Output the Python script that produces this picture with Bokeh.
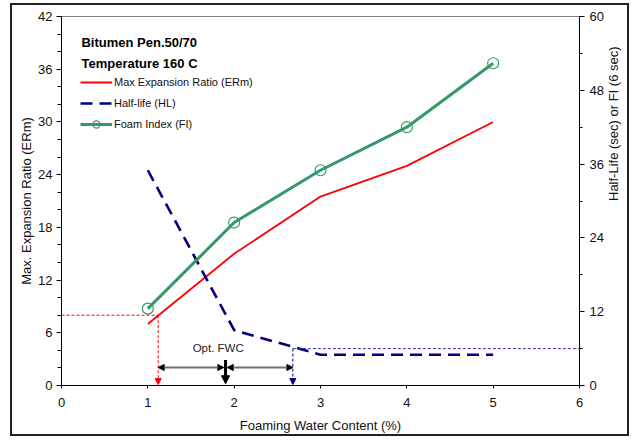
import math
from bokeh.plotting import figure
from bokeh.models import (Range1d, LinearAxis, SingleIntervalTicker, Arrow, NormalHead, Label)
from bokeh.embed import file_html
from bokeh.resources import INLINE

# ---- data ----
fwc = [1, 2, 3, 4, 5]
erm = [7.0, 15.0, 21.5, 25.0, 30.0]
half_life = [35.0, 9.0, 5.0, 5.0, 5.0]
foam_index = [12.5, 26.5, 35.0, 42.0, 52.4]

erm_target = 8.0        # ERm limit (left axis)
hl_target = 6.0         # half-life limit (right axis)
fwc_low = 1.12
fwc_high = 2.68
fwc_opt = 1.9

title_lines = ["Bitumen Pen.50/70", "Temperature 160 C"]
labels = ["Max Expansion Ratio (ERm)", "Half-life (HL)", "Foam Index (FI)"]

FONT = "Liberation Sans"

p = figure(width=619, height=433, output_backend="svg", toolbar_location=None,
           x_range=Range1d(0, 6), y_range=Range1d(0, 42),
           min_border_left=49, min_border_right=51, min_border_top=11, min_border_bottom=53,
           background_fill_color="white", border_fill_color="white")
p.styles = {"border": "2px solid #222222", "margin-left": "10px", "margin-top": "3px"}
p.extra_y_ranges = {"hl": Range1d(0, 60)}
p.grid.visible = False
p.outline_line_color = "#808080"
p.outline_line_width = 1

# axes styling
xa = p.xaxis[0]
xa.ticker = SingleIntervalTicker(interval=1, num_minor_ticks=0)
xa.axis_label = "Foaming Water Content (%)"
ya = p.yaxis[0]
ya.ticker = SingleIntervalTicker(interval=6, num_minor_ticks=3)
ya.axis_label = "Max. Expansion Ratio (ERm)"

ra = LinearAxis(y_range_name="hl", ticker=SingleIntervalTicker(interval=12, num_minor_ticks=2),
                axis_label="Half-Life (sec) or FI (6 sec)")
try:
    ra.axis_label_orientation = math.pi / 2
except Exception:
    pass
p.add_layout(ra, "right")

for ax in (xa, ya, ra):
    ax.axis_line_color = "black"
    ax.axis_line_width = 1
    ax.major_tick_line_color = "black"
    ax.minor_tick_line_color = "black"
    ax.major_label_text_font = FONT
    ax.major_label_text_font_size = "13px"
    ax.major_label_text_color = "#111111"
    ax.axis_label_text_font = FONT
    ax.axis_label_text_font_size = "13px"
    ax.axis_label_text_font_style = "normal"
    ax.axis_label_text_color = "#111111"

xa.major_tick_in = 0
xa.major_tick_out = 3
xa.minor_tick_line_color = None
xa.major_label_standoff = 9
xa.axis_label_standoff = 8

ya.major_tick_in = 0
ya.major_tick_out = 5
ya.minor_tick_in = 0
ya.minor_tick_out = 4
ya.major_label_standoff = 4
ya.axis_label_standoff = 1

ra.major_tick_in = 0
ra.major_tick_out = 5
ra.minor_tick_in = 0
ra.minor_tick_out = 3
ra.major_label_standoff = 5
ra.axis_label_standoff = 7

# ---- series ----
p.line(fwc, erm, line_color="#FF0000", line_width=1.8, legend_label=labels[0])
p.line(fwc, half_life, y_range_name="hl", line_color="#000080", line_width=2.6,
       line_dash="12 7", legend_label=labels[1])
p.line(fwc, foam_index, y_range_name="hl", line_color="#339966", line_width=3,
       legend_label=labels[2])
p.scatter(fwc, foam_index, y_range_name="hl", marker="circle", size=11,
          fill_color=None, line_color="#339966", line_width=1.2, legend_label=labels[2])

# ---- annotation lines ----
p.line([0, fwc_low], [erm_target, erm_target], line_color="#FF0000", line_width=1, line_dash="3 2")
p.add_layout(Arrow(x_start=fwc_low, y_start=erm_target, x_end=fwc_low, y_end=0.1,
                   line_color="#FF0000", line_width=1, line_dash="3 2",
                   end=NormalHead(size=6, fill_color="#FF0000", line_color="#FF0000", line_width=1)))

p.line([fwc_high, 6], [hl_target, hl_target], y_range_name="hl",
       line_color="#3333AA", line_width=1, line_dash="3 2")
p.add_layout(Arrow(x_start=fwc_high, y_start=hl_target, x_end=fwc_high, y_end=0.15,
                   y_range_name="hl", line_color="#000080", line_width=1, line_dash="3 2",
                   end=NormalHead(size=6, fill_color="#000080", line_color="#000080", line_width=1)))

arr_y = 2.05
for xs, xe in ((fwc_low, fwc_opt - 0.02), (fwc_opt + 0.02, fwc_high)):
    p.add_layout(Arrow(x_start=xs, y_start=arr_y, x_end=xe, y_end=arr_y,
                       line_color="#707070", line_width=2,
                       start=NormalHead(size=6, fill_color="black", line_color="black", line_width=1),
                       end=NormalHead(size=6, fill_color="black", line_color="black", line_width=1)))

p.add_layout(Arrow(x_start=fwc_opt, y_start=2.9, x_end=fwc_opt, y_end=0.2,
                   line_color="black", line_width=3,
                   end=NormalHead(size=8, fill_color="black", line_color="black", line_width=1)))

p.add_layout(Label(x=1.815, y=4.3, text="Opt. FWC", text_align="center", text_baseline="middle",
                   text_font=FONT, text_font_size="11.5px", text_color="#222222"))

# ---- title lines ----
p.add_layout(Label(x=0.231, y=39.0, text=title_lines[0], text_align="left", text_baseline="middle",
                   text_font=FONT, text_font_size="13px", text_font_style="bold", text_color="black"))
p.add_layout(Label(x=0.231, y=36.7, text=title_lines[1], text_align="left", text_baseline="middle",
                   text_font=FONT, text_font_size="13px", text_font_style="bold", text_color="black"))

# ---- legend ----
lg = p.legend[0]
lg.location = (19, 252)
lg.border_line_color = None
lg.background_fill_alpha = 0
lg.padding = 0
lg.margin = 0
lg.spacing = 3
lg.glyph_width = 32
lg.glyph_height = 18
lg.label_height = 18
lg.label_standoff = 2
lg.label_text_font = FONT
lg.label_text_font_size = "11px"
lg.label_text_color = "#111111"

open("out.html", "w").write(file_html(p, INLINE))
